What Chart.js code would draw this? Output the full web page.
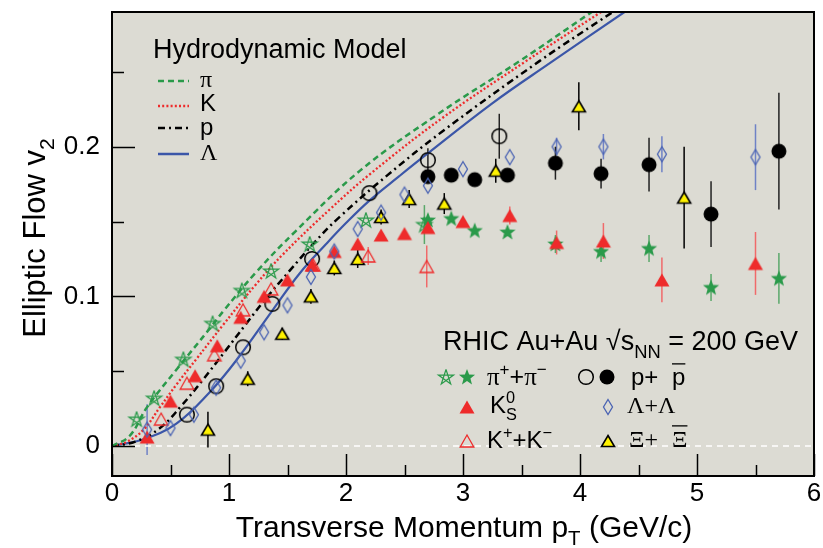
<!DOCTYPE html>
<html>
<head>
<meta charset="utf-8">
<script src="https://cdn.jsdelivr.net/npm/chart.js@4.4.0/dist/chart.umd.min.js"></script>
<style>
html, body { margin: 0; padding: 0; background: #fff; }
</style>
</head>
<body>
<canvas id="c" width="823" height="548"></canvas>
<script>
const piOpenX = [0.21, 0.36, 0.61, 0.86, 1.11, 1.36, 1.69, 2.17, 2.67];
const piOpenY = [0.018, 0.032, 0.058, 0.082, 0.104, 0.117, 0.135, 0.151, 0.148];
const piOpenErr = [0, 0, 0, 0, 0, 0, 0, 0, 0.013];

const piX = [2.70, 2.90, 3.10, 3.38, 3.79, 4.18, 4.59, 5.12, 5.70];
const piY = [0.151, 0.152, 0.144, 0.143, 0.135, 0.130, 0.132, 0.106, 0.112];
const piErr = [0, 0, 0, 0, 0.006, 0.007, 0.009, 0.009, 0.017];

const k0X = [0.30, 0.50, 0.71, 0.90, 1.10, 1.30, 1.50, 1.71, 1.90, 2.10, 2.30, 2.50, 2.70, 3.00, 3.40, 3.80, 4.20, 4.70, 5.50];
const k0Y = [0.006, 0.030, 0.047, 0.067, 0.086, 0.100, 0.111, 0.121, 0.130, 0.135, 0.141, 0.142, 0.146, 0.150, 0.154, 0.136, 0.137, 0.111, 0.122];
const k0Err = [0, 0, 0, 0, 0, 0, 0, 0, 0, 0, 0, 0, 0, 0, 0.006, 0.008, 0.012, 0.015, 0.021];

const kchX = [0.42, 0.64, 0.875, 1.12, 1.36, 1.72, 2.19, 2.69];
const kchY = [0.018, 0.042, 0.061, 0.091, 0.105, 0.121, 0.127, 0.120];
const kchErr = [0, 0, 0, 0, 0, 0, 0.006, 0.014];

const pOpenX = [0.64, 0.89, 1.12, 1.37, 1.71, 2.20, 2.70, 3.31];
const pOpenY = [0.021, 0.040, 0.066, 0.095, 0.125, 0.169, 0.191, 0.207];
const pOpenErr = [0, 0, 0, 0, 0, 0, 0.008, 0.015];

const pX = [2.70, 2.90, 3.10, 3.38, 3.79, 4.18, 4.59, 5.12, 5.70];
const pY = [0.180, 0.181, 0.178, 0.181, 0.189, 0.182, 0.188, 0.155, 0.197];
const pErr = [0, 0, 0, 0, 0.011, 0.010, 0.018, 0.022, 0.039];

const lamX = [0.30, 0.50, 0.70, 0.89, 1.10, 1.30, 1.50, 1.70, 1.90, 2.10, 2.30, 2.50, 2.70, 3.00, 3.40, 3.80, 4.20, 4.70, 5.50];
const lamY = [0.011, 0.012, 0.021, 0.039, 0.057, 0.076, 0.094, 0.113, 0.130, 0.145, 0.156, 0.168, 0.174, 0.185, 0.193, 0.200, 0.200, 0.195, 0.193];
const lamErr = [0.017, 0, 0, 0, 0, 0, 0, 0, 0, 0, 0, 0, 0, 0, 0, 0.006, 0.0085, 0.012, 0.022];

const xiX = [0.82, 1.16, 1.455, 1.70, 1.90, 2.10, 2.30, 2.54, 2.84, 3.28, 3.99, 4.89];
const xiY = [0.011, 0.045, 0.075, 0.100, 0.119, 0.125, 0.153, 0.165, 0.162, 0.184, 0.227, 0.166];
const xiErr = [0.012, 0.005, 0.004, 0.005, 0.005, 0.006, 0.005, 0.006, 0.007, 0.008, 0.016, 0.034];

// hydro curves
const hydroPiX = [0, 0.15, 0.30, 0.55, 0.82, 0.95, 1.23, 1.575, 2.12, 2.79, 3.48, 4.10];
const hydroPiY = [0, 0.0067, 0.026, 0.051, 0.077, 0.090, 0.116, 0.144, 0.184, 0.222, 0.257, 0.290];
const hydroKX = [0, 0.13, 0.27, 0.41, 0.55, 0.72, 0.95, 1.23, 1.46, 1.86, 2.21, 2.82, 3.535, 4.18];
const hydroKY = [0, 0.003, 0.011, 0.026, 0.041, 0.058, 0.081, 0.108, 0.128, 0.158, 0.182, 0.219, 0.257, 0.290];
const hydroPX = [0, 0.20, 0.41, 0.594, 0.78, 0.963, 1.15, 1.32, 1.517, 1.73, 1.944, 2.355, 2.82, 3.65, 4.28];
const hydroPY = [0, 0.003, 0.012, 0.027, 0.0446, 0.063, 0.082, 0.099, 0.117, 0.136, 0.153, 0.181, 0.210, 0.257, 0.290];
const hydroLamX = [0, 0.27, 0.55, 0.835, 1.06, 1.375, 1.60, 1.83, 2.00, 2.20, 2.45, 2.674, 3.25, 3.745, 4.38];
const hydroLamY = [0, 0.0045, 0.015, 0.036, 0.057, 0.091, 0.115, 0.135, 0.149, 0.164, 0.180, 0.194, 0.229, 0.256, 0.290];

const xMajor = [0, 1, 2, 3, 4, 5, 6];
const yMajor = [0, 0.1, 0.2];

const GREEN = '#2a9a4a', RED = '#ee2b2b', BLUE = '#3b56a8', BG = '#dcdbd3';
const SANS = '"Liberation Sans", Arial, sans-serif';
const SERIF = '"Liberation Serif", serif';

function pts(xs, ys) { return xs.map((x, i) => ({ x: x, y: ys[i] })); }

function marker(w, h, draw) {
    const c = document.createElement('canvas');
    c.width = w; c.height = h;
    const g = c.getContext('2d');
    draw(g, w / 2, h / 2);
    return c;
}
function starPath(g, cx, cy, R, r) {
    g.beginPath();
    for (let i = 0; i < 10; i++) {
        const a = -Math.PI / 2 + i * Math.PI / 5;
        const rad = i % 2 ? r : R;
        g.lineTo(cx + rad * Math.cos(a), cy + rad * Math.sin(a));
    }
    g.closePath();
}
function triPath(g, cx, cy, hw, hh) {
    g.beginPath();
    g.moveTo(cx, cy - hh);
    g.lineTo(cx + hw, cy + hh);
    g.lineTo(cx - hw, cy + hh);
    g.closePath();
}

const mFillStar = marker(20, 20, (g, cx, cy) => { starPath(g, cx, cy + 0.5, 8.5, 3.6); g.fillStyle = GREEN; g.fill(); });
const mOpenStar = marker(20, 20, (g, cx, cy) => {
    g.beginPath();
    for (let i = 0; i <= 5; i++) {
        const a = -Math.PI / 2 + (i * 2 % 5) * 2 * Math.PI / 5;
        g.lineTo(cx + 8 * Math.cos(a), cy + 0.5 + 8 * Math.sin(a));
    }
    g.strokeStyle = GREEN; g.lineWidth = 1.2; g.stroke();
});
const mRedTri = marker(18, 16, (g, cx, cy) => { triPath(g, cx, cy, 7.5, 6.5); g.fillStyle = RED; g.fill(); });
const mOpenTri = marker(18, 16, (g, cx, cy) => { triPath(g, cx, cy, 6.8, 6); g.strokeStyle = RED; g.lineWidth = 1.3; g.stroke(); });
const mXiTri = marker(18, 16, (g, cx, cy) => { triPath(g, cx, cy, 6.5, 5.5); g.fillStyle = '#fff200'; g.fill(); g.strokeStyle = '#000'; g.lineWidth = 1.6; g.stroke(); });
const mOpenCirc = marker(20, 20, (g, cx, cy) => { g.beginPath(); g.arc(cx, cy, 7.3, 0, Math.PI * 2); g.strokeStyle = '#000'; g.lineWidth = 1.5; g.stroke(); });
const mFillCirc = marker(20, 20, (g, cx, cy) => { g.beginPath(); g.arc(cx, cy, 7.5, 0, Math.PI * 2); g.fillStyle = '#000'; g.fill(); });
const mDiamond = marker(14, 20, (g, cx, cy) => {
    g.beginPath(); g.moveTo(cx, cy - 7.5); g.lineTo(cx + 4.5, cy); g.lineTo(cx, cy + 7.5); g.lineTo(cx - 4.5, cy); g.closePath();
    g.strokeStyle = '#4a63b3'; g.lineWidth = 1.3; g.stroke();
});

function markerSet(xs, ys, err, style, errColor) {
    return {
        data: pts(xs, ys), err: err, errColor: errColor, pointStyle: style,
        showLine: false, pointRadius: 8, pointHoverRadius: 8, order: 1
    };
}
function hydro(xs, ys, color, dash, width) {
    return {
        data: pts(xs, ys), showLine: true, borderColor: color, borderDash: dash, borderWidth: width,
        pointRadius: 0, tension: 0.4, fill: false, order: 5
    };
}

const datasets = [
    { data: pts([0, 6], [0, 0]), showLine: true, borderColor: '#ffffff', borderDash: [6, 5], borderWidth: 1.5, pointRadius: 0, order: 9 },
    hydro(hydroPiX, hydroPiY, GREEN, [6, 4], 2.5),
    hydro(hydroKX, hydroKY, RED, [2, 2.2], 2.3),
    hydro(hydroPX, hydroPY, '#000', [7, 4, 2, 4], 2.5),
    hydro(hydroLamX, hydroLamY, BLUE, [], 2.2),
    markerSet(lamX, lamY, lamErr, mDiamond, '#6f82c6'),
    markerSet(k0X, k0Y, k0Err, mRedTri, '#f06a6a'),
    markerSet(kchX, kchY, kchErr, mOpenTri, '#f06a6a'),
    markerSet(piOpenX, piOpenY, piOpenErr, mOpenStar, '#5aa86a'),
    markerSet(piX, piY, piErr, mFillStar, '#5aa86a'),
    markerSet(pOpenX, pOpenY, pOpenErr, mOpenCirc, '#222'),
    markerSet(pX, pY, pErr, mFillCirc, '#222'),
    markerSet(xiX, xiY, xiErr, mXiTri, '#000')
];

function partFont(p, size) {
    const s = (p.sub || p.sup) ? size * 0.68 : size;
    return s + 'px ' + (p.serif ? SERIF : SANS);
}
function richWidth(ctx, parts, size) {
    let w = 0;
    parts.forEach(p => { ctx.font = partFont(p, size); if (!p.stay) w += ctx.measureText(p.t).width; });
    return w;
}
function rich(ctx, x, y, parts, size) {
    parts.forEach(p => {
        ctx.font = partFont(p, size);
        const dy = p.sub ? size * 0.28 : p.sup ? -size * 0.42 : 0;
        ctx.fillText(p.t, x, y + dy);
        const w = ctx.measureText(p.t).width;
        if (p.bar) {
            ctx.save(); ctx.lineWidth = 1.3; ctx.beginPath();
            ctx.moveTo(x, y - size * 0.88); ctx.lineTo(x + w, y - size * 0.88); ctx.stroke(); ctx.restore();
        }
        if (!p.stay) x += w;
    });
    return x;
}

const plotDecor = {
    id: 'plotDecor',
    beforeDraw(chart) {
        const a = chart.chartArea, ctx = chart.ctx;
        ctx.save();
        ctx.fillStyle = BG;
        ctx.fillRect(a.left, a.top, a.right - a.left, a.bottom - a.top);
        ctx.restore();
    },
    beforeDatasetsDraw(chart) {
        const ctx = chart.ctx, xs = chart.scales.x, ys = chart.scales.y, a = chart.chartArea;
        ctx.save();
        ctx.beginPath(); ctx.rect(a.left, a.top, a.right - a.left, a.bottom - a.top); ctx.clip();
        chart.data.datasets.forEach(ds => {
            if (!ds.err) return;
            ctx.strokeStyle = ds.errColor; ctx.lineWidth = 1.5;
            ds.data.forEach((p, i) => {
                const e = ds.err[i];
                if (!e) return;
                const px = xs.getPixelForValue(p.x);
                ctx.beginPath();
                ctx.moveTo(px, ys.getPixelForValue(p.y - e));
                ctx.lineTo(px, ys.getPixelForValue(p.y + e));
                ctx.stroke();
            });
        });
        ctx.restore();
    },
    afterDraw(chart) {
        const ctx = chart.ctx, xs = chart.scales.x, ys = chart.scales.y, a = chart.chartArea;
        ctx.save();
        ctx.strokeStyle = '#000'; ctx.lineWidth = 1.5;
        // inward ticks
        for (let v = 0; v <= 6.001; v += 0.5) {
            const px = Math.round(xs.getPixelForValue(v)) + 0.5;
            const len = Math.abs(v - Math.round(v)) < 1e-6 ? 22 : 11;
            ctx.beginPath(); ctx.moveTo(px, a.bottom); ctx.lineTo(px, a.bottom - len); ctx.stroke();
        }
        for (let v = 0; v <= 0.2501; v += 0.05) {
            const py = Math.round(ys.getPixelForValue(v)) + 0.5;
            const len = Math.round(v * 100) % 10 === 0 ? 23 : 12;
            ctx.beginPath(); ctx.moveTo(a.left, py); ctx.lineTo(a.left + len, py); ctx.stroke();
        }
        ctx.lineWidth = 2;
        ctx.strokeRect(a.left, a.top, a.right - a.left, a.bottom - a.top);

        ctx.fillStyle = '#000';
        ctx.textBaseline = 'alphabetic';
        ctx.textAlign = 'left';

        // axis titles
        const xt = [{ t: 'Transverse Momentum p' }, { t: 'T', sub: true }, { t: ' (GeV/c)' }];
        rich(ctx, 464 - richWidth(ctx, xt, 30) / 2, 537, xt, 30);

        ctx.save();
        ctx.translate(45, 238);
        ctx.rotate(-Math.PI / 2);
        const yt = [{ t: 'Elliptic Flow v' }, { t: '2', sub: true }];
        rich(ctx, -richWidth(ctx, yt, 31) / 2, 0, yt, 31);
        ctx.restore();

        // hydro legend
        ctx.font = '27px ' + SANS;
        ctx.fillText('Hydrodynamic Model', 153, 58);
        const hl = [
            [GREEN, [6, 4], 2.5, 81, 'π', 87],
            [RED, [2, 2.2], 2.3, 106, 'K', 111],
            ['#000', [7, 4, 2, 4], 2.5, 128, 'p', 135],
            [BLUE, [], 2.5, 154, 'Λ', 160]
        ];
        hl.forEach(h => {
            ctx.save();
            ctx.strokeStyle = h[0]; ctx.setLineDash(h[1]); ctx.lineWidth = h[2];
            ctx.beginPath(); ctx.moveTo(158, h[3]); ctx.lineTo(189, h[3]); ctx.stroke();
            ctx.restore();
            rich(ctx, 200, h[5], [{ t: h[4], serif: h[4] === 'π' || h[4] === 'Λ' }], 24);
        });

        // data legend
        rich(ctx, 443, 350, [{ t: 'RHIC Au+Au √s' }, { t: 'NN', sub: true }, { t: ' = 200 GeV' }], 27);
        const dm = (m, x, y) => ctx.drawImage(m, x - m.width / 2, y - m.height / 2);
        dm(mOpenStar, 446, 377); dm(mFillStar, 467, 377);
        rich(ctx, 487, 385, [{ t: 'π', serif: true }, { t: '+', sup: true }, { t: '+' }, { t: 'π', serif: true }, { t: '−', sup: true }], 25);
        dm(mOpenCirc, 586, 377); dm(mFillCirc, 607, 377);
        rich(ctx, 631, 385, [{ t: 'p+ ' }], 24);
        rich(ctx, 672, 385, [{ t: 'p', bar: true }], 24);

        dm(mRedTri, 467, 407);
        rich(ctx, 490, 413, [{ t: 'K' }, { t: '0', sup: true, stay: true }, { t: 'S', sub: true }], 24);
        dm(mDiamond, 608, 407);
        rich(ctx, 627, 413, [{ t: 'Λ+Λ', serif: true }], 24);

        dm(mOpenTri, 467, 441);
        rich(ctx, 487, 448, [{ t: 'K' }, { t: '+', sup: true }, { t: '+K' }, { t: '−', sup: true }], 24);
        dm(mXiTri, 608, 441);
        rich(ctx, 629, 447, [{ t: 'Ξ+', serif: true }], 24);
        rich(ctx, 672, 447, [{ t: 'Ξ', serif: true, bar: true }], 24);
        ctx.restore();
    }
};

Chart.defaults.font.family = SANS;
Chart.defaults.color = '#000';

new Chart(document.getElementById('c'), {
    type: 'scatter',
    data: { datasets: datasets },
    options: {
        responsive: false,
        animation: false,
        devicePixelRatio: 1,
        layout: { padding: { top: 12, right: 7, left: 0, bottom: 0 } },
        plugins: { legend: { display: false }, tooltip: { enabled: false } },
        scales: {
            x: {
                type: 'linear', min: 0, max: 6,
                grid: { display: false, drawTicks: false, tickLength: 0 },
                border: { display: false },
                ticks: {
                    stepSize: 0.5, padding: 2, maxRotation: 0, autoSkip: false,
                    font: { size: 26 },
                    callback: v => xMajor.includes(v) ? String(v) : ''
                },
                afterFit: s => { s.height = 72; s.paddingLeft = 0; s.paddingRight = 0; }
            },
            y: {
                type: 'linear', min: -0.02, max: 0.29,
                grid: { display: false, drawTicks: false, tickLength: 0 },
                border: { display: false },
                ticks: {
                    stepSize: 0.05, includeBounds: false, padding: 12, autoSkip: false,
                    font: { size: 26 },
                    callback: v => yMajor.some(m => Math.abs(m - v) < 1e-6) ? String(Math.round(v * 10) / 10) : ''
                },
                afterFit: s => { s.width = 112; s.paddingTop = 0; s.paddingBottom = 0; }
            }
        }
    },
    plugins: [plotDecor]
});
</script>
</body>
</html>
